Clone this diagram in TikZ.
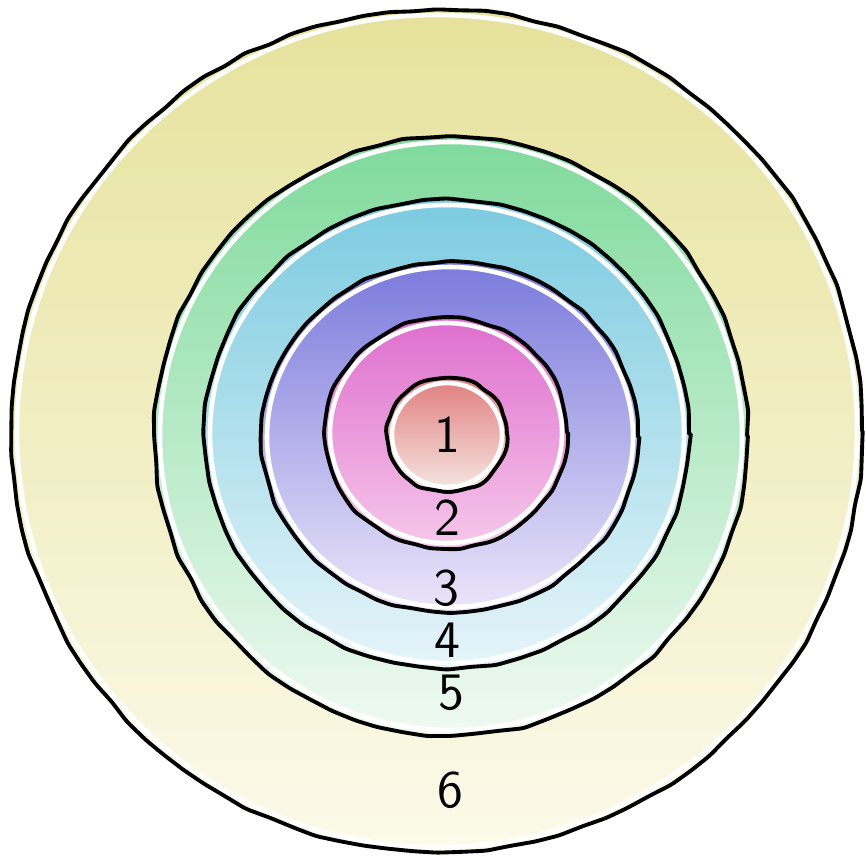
\documentclass[tikz,border=0pt]{standalone}
\usepackage{xcolor}
\usepackage{tikz}
\usetikzlibrary{decorations.pathmorphing}
\definecolor{r6top}{HTML}{E6E29C}
\definecolor{r6bot}{HTML}{FCFAEA}
\definecolor{r5top}{HTML}{7FDA9C}
\definecolor{r5bot}{HTML}{F0FAF2}
\definecolor{r4top}{HTML}{7CCBE0}
\definecolor{r4bot}{HTML}{E6F5F9}
\definecolor{r3top}{HTML}{7A7ADC}
\definecolor{r3bot}{HTML}{ECE6F9}
\definecolor{r2top}{HTML}{DE6ECE}
\definecolor{r2bot}{HTML}{F6C8EA}
\definecolor{r1top}{HTML}{E07E7E}
\definecolor{r1bot}{HTML}{F6E8E4}
\tikzset{
  ringline/.style={draw=black, line width=1.1pt, line join=round, line cap=round,
    decorate, decoration={random steps, segment length=#1, amplitude=0.4pt},
    rounded corners=1.2pt},
  ringline/.default=7pt,
  gapline/.style={draw=white, line width=1.3pt},
  ringlabel/.style={font=\sffamily\fontsize{15}{15}\selectfont, text=black, inner sep=0.5pt}
}

\begin{document}
\begin{tikzpicture}[x=0.01cm, y=0.01cm]
\pgfmathsetseed{7}
\useasboundingbox (0,0) rectangle (866,856);
% ring 6
\fill[top color=r6top, bottom color=r6bot] (437,425) ellipse [x radius=425, y radius=421];
\draw[gapline] (437,425) ellipse [x radius=420, y radius=416];
\draw[ringline] (437,425) ellipse [x radius=425, y radius=421];
% ring 5
\fill[top color=r5top, bottom color=r5bot] (451,420) ellipse [x radius=296, y radius=299];
\draw[gapline] (451,420) ellipse [x radius=291, y radius=294];
\draw[ringline] (451,420) ellipse [x radius=296, y radius=299];
% ring 4
\fill[top color=r4top, bottom color=r4bot] (447,422) ellipse [x radius=242, y radius=234];
\draw[gapline] (447,422) ellipse [x radius=237, y radius=229];
\draw[ringline] (447,422) ellipse [x radius=242, y radius=234];
% ring 3
\fill[top color=r3top, bottom color=r3bot] (450,419) ellipse [x radius=188, y radius=175];
\draw[gapline] (450,419) ellipse [x radius=183, y radius=170];
\draw[ringline=5pt] (450,419) ellipse [x radius=188, y radius=175];
% ring 2
\fill[top color=r2top, bottom color=r2bot] (446,423) ellipse [x radius=121, y radius=115];
\draw[gapline] (446,423) ellipse [x radius=116, y radius=110];
\draw[ringline=4pt] (446,423) ellipse [x radius=121, y radius=115];
% ring 1
\fill[top color=r1top, bottom color=r1bot] (447,421) ellipse [x radius=60, y radius=57];
\draw[gapline] (447,421) ellipse [x radius=55, y radius=52];
\draw[ringline=3pt] (447,421) ellipse [x radius=60, y radius=57];
% labels
\node[ringlabel] (lab1) at (447,421) {1};
\node[ringlabel] (lab2) at (447,338) {2};
\node[ringlabel] (lab3) at (446,268) {3};
\node[ringlabel] (lab4) at (447,216) {4};
\node[ringlabel] (lab5) at (451,163) {5};
\node[ringlabel] (lab6) at (450,66) {6};
\end{tikzpicture}
\end{document}
